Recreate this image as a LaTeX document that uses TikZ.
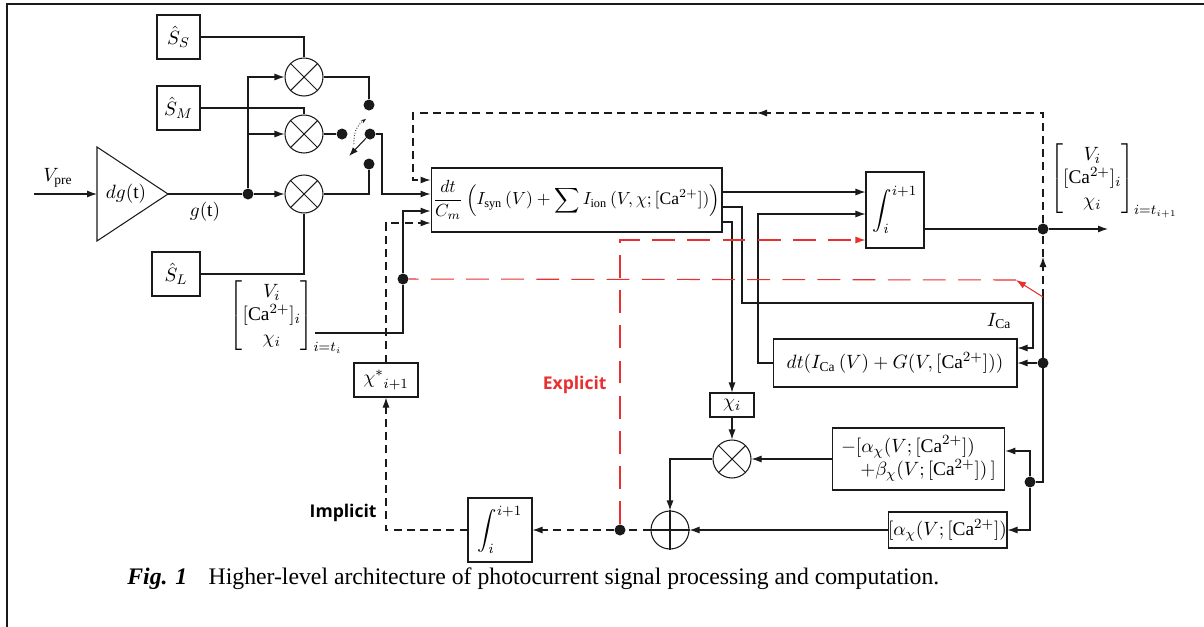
\documentclass[tikz,border=0pt]{standalone}
\usepackage{amsmath}
\usepackage{amssymb}
\usepackage{fontspec}
\setmainfont{Liberation Serif}
\newfontfamily\uisans{Open Sans}
\usetikzlibrary{arrows.meta, calc, positioning}
\definecolor{expred}{RGB}{232, 48, 48}
\definecolor{b}{HTML}{1a1a1a}

\begin{document}
\begin{tikzpicture}[x=0.02cm, y=-0.02cm, line width=0.6pt, draw=b,
    font=\fontsize{11}{13}\selectfont,
    >={Latex[length=2mm,width=1.4mm]},
    blk/.style={draw, rectangle, inner sep=0pt},
    mult/.style={draw, circle, minimum size=0.76cm, inner sep=0pt},
    dot/.style={circle, fill=b, inner sep=0pt, minimum size=2.2mm},
    fbk/.style={dash pattern=on 4.5pt off 3pt},
    expl/.style={expred, dash pattern=on 13pt off 7pt},
    tag/.style={font=\uisans\bfseries\fontsize{10}{12}\selectfont}]
    \useasboundingbox (0,0) rectangle (1204,626);
    \draw[line width=1.2pt] (7,640) -- (7,4) -- (1215,4);

    % gain stage
    \coordinate (Vin) at (34,194);
    \coordinate (AMPi) at (97,194);
    \draw (97,147) -- (168,194) coordinate (AMPo) -- (97,241) -- cycle;
    \node (AMP) at (126,194) {$dg(\mathrm{t})$};
    \draw[->] (Vin) -- (AMPi) node[pos=0.38, above] {$V_{\mathrm{pre}}$};
    \node[dot] (G) at (248,194) {};
    \draw (AMPo) -- (G) node[pos=0.5, below=1pt] {$g(\mathrm{t})$};

    \node[blk, minimum width=0.86cm, minimum height=0.88cm] (SS) at (178.5,37) {$\hat{S}_S$};
    \node[blk, minimum width=0.86cm, minimum height=0.88cm] (SM) at (178.5,108) {$\hat{S}_M$};
    \node[blk, minimum width=0.96cm, minimum height=0.88cm] (SL) at (176,274) {$\hat{S}_L$};

    \node[mult] (M1) at (304,77) {};
    \node[mult] (M2) at (304,134) {};
    \node[mult] (M3) at (304,194) {};
    \foreach \m in {M1,M2,M3}
        \draw (\m.north west) -- (\m.south east) (\m.north east) -- (\m.south west);

    \draw[->] (G) -- (M3);
    \draw[->] (G) |- (M1);
    \draw[->] (G |- M2) -- (M2);
    \draw (SS) -| (M1);
    \draw (SM) -| (M2);
    \draw (SL) -| (M3);

    % switch
    \node[dot] (K1) at (369,105) {};
    \node[dot] (K2) at (342,134) {};
    \node[dot] (KP) at (370,134) {};
    \node[dot] (K3) at (369,164) {};
    \draw (M1) -| (K1);
    \draw (M2) -- (K2);
    \draw (M3) -| (K3);
    \draw[-{Latex[length=1.8mm,width=1.3mm]}] (KP) -- (349,156);
    \draw[densely dotted, line width=0.5pt, -{Stealth[length=1mm]}] (354,144) to[bend left=30] (366,119);

    % main block
    \node[blk, minimum width=5.82cm, minimum height=1.28cm, font=\fontsize{10}{12}\selectfont] (MB) at (576.5,200)
        {$\dfrac{dt}{C_m}\left(I_{\mathrm{syn}}\,(V)+\displaystyle\sum I_{\mathrm{ion}}\,(V,\chi;[\mathrm{Ca}^{2+}])\right)$};
    \coordinate (Sw) at (382,134);
    \draw[->] (KP) -- (Sw) |- (MB.west |- 0,194);

    \node[blk, minimum width=1.16cm, minimum height=1.52cm] (INT1) at (895,210) {$\displaystyle\int_i^{i+1}$};
    \node[blk, minimum width=4.88cm, minimum height=0.96cm] (DT) at (895,363)
        {$dt(I_{\mathrm{Ca}}\,(V)+G(V,[\mathrm{Ca}^{2+}]))$};
    \node[blk, minimum width=0.88cm, minimum height=0.48cm] (CHI) at (732,405) {$\chi_i$};
    \node[mult] (M4) at (732,459) {};
    \draw (M4.north west) -- (M4.south east) (M4.north east) -- (M4.south west);
    \node[mult] (AD) at (670,530) {};
    \draw (AD.north) -- (AD.south) (AD.west) -- (AD.east);
    \node[blk, minimum width=3.38cm, minimum height=1.24cm] (AB) at (918.5,459)
        {$\begin{array}{l}-[\alpha_\chi(V;[\mathrm{Ca}^{2+}])\\ \quad+\beta_\chi(V;[\mathrm{Ca}^{2+}])\,]\end{array}$};
    \node[blk, minimum width=2.22cm, minimum height=0.72cm] (AL) at (947.5,530)
        {$[\alpha_\chi(V;[\mathrm{Ca}^{2+}])$};
    \node[blk, minimum width=1.28cm, minimum height=1.28cm] (INT2) at (500,530) {$\displaystyle\int_i^{i+1}$};
    \node[blk, minimum width=1.28cm, minimum height=0.68cm] (CHS) at (386,380) {${\chi^{*}}_{i+1}$};

    % outputs of the main block
    \draw[->] (MB.east |- 0,192) -- (INT1.west |- 0,192);
    \coordinate (ICa) at (1033,303);
    \draw[->] (MB.east |- 0,207) -- (742,207) |- (ICa) |- (DT.east |- 0,348);
    \node (ICaL) at (999,321) {$I_{\mathrm{Ca}}$};
    \draw[->] (MB.east |- 0,222) -| (CHI);
    \draw[->] (DT) -| (758,214) -- (INT1.west |- 0,214);

    % state vector in
    \node (Xin) at (286,317) {$\begin{bmatrix} V_i\\ [\mathrm{Ca}^{2+}]_i\\ \chi_i\end{bmatrix}_{i=t_i}$};
    \coordinate (Xi) at (315,333);
    \node[dot] (XD) at (403,279) {};
    \draw (Xi) -| (XD);
    \draw[->] (XD) |- (MB.west |- 0,211);

    % state vector out
    \node[dot] (OD) at (1043,229) {};
    \coordinate (OUT) at (1108,229);
    \node (Xout) at (1114,181) {$\begin{bmatrix} V_i\\ [\mathrm{Ca}^{2+}]_i\\ \chi_i\end{bmatrix}_{i=t_{i+1}}$};
    \draw (INT1.east |- OD) -- (OD);
    \draw[->] (OD) -- (OUT);

    % right-hand feedback
    \coordinate (RV) at (1043,297);
    \coordinate (UA) at (1043,257);
    \coordinate (FA) at (757,113);
    \coordinate (FBc) at (413,113);
    \node[dot] (RD1) at (1043,363) {};
    \coordinate (RB) at (1043,482);
    \node[dot] (RD2) at (1030,482) {};
    \draw[fbk,->] (RV) -- (UA);
    \draw[fbk] (UA) -- (OD);
    \draw[fbk,->] (OD) |- (FA);
    \draw[fbk,->] (FA) -- (FBc) |- (MB.west |- 0,180);
    \draw (RV) -- (RB) -- (RD2);
    \draw[->] (RD1) -- (DT.east |- RD1);
    \draw[->] (RD2) |- (AB.east |- 0,451);
    \draw[->] (RD2) |- (AL);

    % gating loop
    \draw[->] (CHI) -- (M4);
    \draw[->] (AB) -- (M4);
    \draw[->] (M4) -| (AD);
    \draw[->] (AL) -- (AD);
    \node[dot] (RX) at (620,530) {};
    \draw[fbk] (AD) -- (RX);
    \draw[fbk,->] (RX) -- (INT2);
    \draw[fbk,->] (INT2) -| (CHS);
    \draw[fbk,->] (CHS) |- (MB.west |- 0,223);
    \node[tag, anchor=east] (IMP) at (383,513) {Implicit};

    % explicit path
    \coordinate (RA) at (1016,280);
    \draw[expred, ->] (RV) -- (RA);
    \draw[expl] (RA) -- (XD);
    \draw[expl, ->] (RX) |- (INT1.west |- 0,240);
    \node[tag, text=expred, anchor=east] (EXP) at (613,385) {Explicit};

    \node[anchor=base west, font=\fontsize{13.5}{16}\selectfont] (CAP) at (121,584)
        {\textbf{\textit{Fig. 1}}\hspace{0.9em}Higher-level architecture of photocurrent signal processing and computation.};
\end{tikzpicture}
\end{document}
